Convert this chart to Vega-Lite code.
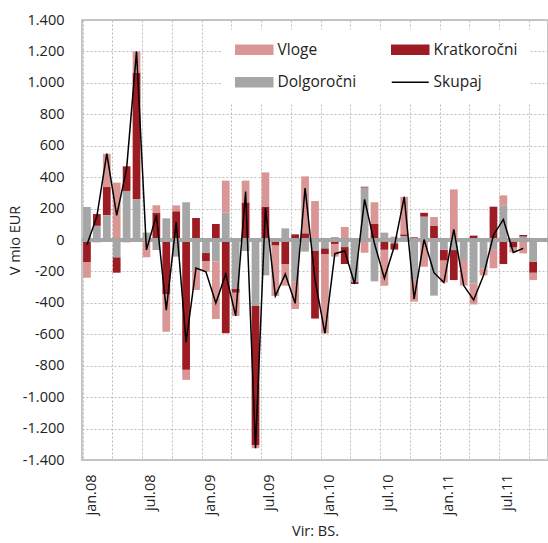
{
  "$schema": "https://vega.github.io/schema/vega-lite/v6.json",
  "width": 466,
  "height": 440,
  "autosize": "none",
  "padding": {"left": 82, "top": 20, "right": 0, "bottom": 83},
  "config": {
    "font": "Open Sans",
    "view": {"stroke": "#c6c6c6", "strokeWidth": 2},
    "axis": {"labelOverlap": false}
  },
  "data": {
    "values": [
      {"m": "2008-01", "Dolgoročni": 210, "Kratkoročni": -140, "Vloge": -100, "Skupaj": -30},
      {"m": "2008-02", "Dolgoročni": 90, "Kratkoročni": 75, "Vloge": -15, "Skupaj": 150},
      {"m": "2008-03", "Dolgoročni": 157, "Kratkoročni": 180, "Vloge": 212, "Skupaj": 549},
      {"m": "2008-04", "Dolgoročni": -110, "Kratkoročni": -98, "Vloge": 365, "Skupaj": 157},
      {"m": "2008-05", "Dolgoročni": 312, "Kratkoročni": 157, "Vloge": -15, "Skupaj": 454},
      {"m": "2008-06", "Dolgoročni": 260, "Kratkoročni": 805, "Vloge": 135, "Skupaj": 1200},
      {"m": "2008-07", "Dolgoročni": 47, "Kratkoročni": 0, "Vloge": -110, "Skupaj": -63},
      {"m": "2008-08", "Dolgoročni": -64, "Kratkoročni": 172, "Vloge": 49, "Skupaj": 157},
      {"m": "2008-09", "Dolgoročni": 138, "Kratkoročni": -344, "Vloge": -240, "Skupaj": -446},
      {"m": "2008-10", "Dolgoročni": -106, "Kratkoročni": 182, "Vloge": 38, "Skupaj": 114},
      {"m": "2008-11", "Dolgoročni": 240, "Kratkoročni": -825, "Vloge": -65, "Skupaj": -650},
      {"m": "2008-12", "Dolgoročni": -191, "Kratkoročni": 140, "Vloge": -127, "Skupaj": -178},
      {"m": "2009-01", "Dolgoročni": -83, "Kratkoročni": -51, "Vloge": -68, "Skupaj": -202},
      {"m": "2009-02", "Dolgoročni": -136, "Kratkoročni": 102, "Vloge": -367, "Skupaj": -401},
      {"m": "2009-03", "Dolgoročni": 174, "Kratkoročni": -594, "Vloge": 204, "Skupaj": -216},
      {"m": "2009-04", "Dolgoročni": -312, "Kratkoročni": -23, "Vloge": -148, "Skupaj": -483},
      {"m": "2009-05", "Dolgoročni": -70, "Kratkoročni": 238, "Vloge": 140, "Skupaj": 308},
      {"m": "2009-06", "Dolgoročni": -420, "Kratkoročni": -884, "Vloge": -21, "Skupaj": -1325},
      {"m": "2009-07", "Dolgoročni": -225, "Kratkoročni": 210, "Vloge": 220, "Skupaj": 205},
      {"m": "2009-08", "Dolgoročni": 0, "Kratkoročni": -34, "Vloge": -322, "Skupaj": -356},
      {"m": "2009-09", "Dolgoročni": 74, "Kratkoročni": -153, "Vloge": -138, "Skupaj": -217},
      {"m": "2009-10", "Dolgoročni": -265, "Kratkoročni": 36, "Vloge": -174, "Skupaj": -403},
      {"m": "2009-11", "Dolgoročni": -74, "Kratkoročni": 42, "Vloge": 363, "Skupaj": 331},
      {"m": "2009-12", "Dolgoročni": -70, "Kratkoročni": -430, "Vloge": 248, "Skupaj": -252},
      {"m": "2010-01", "Dolgoročni": -53, "Kratkoročni": -36, "Vloge": -505, "Skupaj": -594},
      {"m": "2010-02", "Dolgoročni": 19, "Kratkoročni": -25, "Vloge": -81, "Skupaj": -87},
      {"m": "2010-03", "Dolgoročni": -45, "Kratkoročni": -108, "Vloge": 83, "Skupaj": -70},
      {"m": "2010-04", "Dolgoročni": -268, "Kratkoročni": -12, "Vloge": 0, "Skupaj": -280},
      {"m": "2010-05", "Dolgoročni": 333, "Kratkoročni": 6, "Vloge": -81, "Skupaj": 258},
      {"m": "2010-06", "Dolgoročni": -263, "Kratkoročni": 102, "Vloge": 138, "Skupaj": -23},
      {"m": "2010-07", "Dolgoročni": 47, "Kratkoročni": -62, "Vloge": -229, "Skupaj": -244},
      {"m": "2010-08", "Dolgoročni": -21, "Kratkoročni": -40, "Vloge": 21, "Skupaj": -40},
      {"m": "2010-09", "Dolgoročni": 25, "Kratkoročni": 10, "Vloge": 240, "Skupaj": 275},
      {"m": "2010-10", "Dolgoročni": -254, "Kratkoročni": 17, "Vloge": -138, "Skupaj": -375},
      {"m": "2010-11", "Dolgoročni": 148, "Kratkoročni": 25, "Vloge": -170, "Skupaj": 3},
      {"m": "2010-12", "Dolgoročni": -354, "Kratkoročni": 89, "Vloge": 57, "Skupaj": -208},
      {"m": "2011-01", "Dolgoročni": -62, "Kratkoročni": -68, "Vloge": -140, "Skupaj": -270},
      {"m": "2011-02", "Dolgoročni": -64, "Kratkoročni": -191, "Vloge": 322, "Skupaj": 67},
      {"m": "2011-03", "Dolgoročni": -127, "Kratkoročni": 0, "Vloge": -163, "Skupaj": -290},
      {"m": "2011-04", "Dolgoročni": -276, "Kratkoročni": 28, "Vloge": -134, "Skupaj": -382},
      {"m": "2011-05", "Dolgoročni": -180, "Kratkoročni": 0, "Vloge": -45, "Skupaj": -225},
      {"m": "2011-06", "Dolgoročni": -62, "Kratkoročni": 212, "Vloge": -118, "Skupaj": 32},
      {"m": "2011-07", "Dolgoročni": 218, "Kratkoročni": -153, "Vloge": 66, "Skupaj": 131},
      {"m": "2011-08", "Dolgoročni": 0, "Kratkoročni": -47, "Vloge": -32, "Skupaj": -79},
      {"m": "2011-09", "Dolgoročni": 21, "Kratkoročni": 11, "Vloge": -85, "Skupaj": -53},
      {"m": "2011-10", "Dolgoročni": -138, "Kratkoročni": -70, "Vloge": -47}
    ]
  },
  "transform": [
    {"fold": ["Vloge", "Kratkoročni", "Dolgoročni", "Skupaj"], "as": ["s", "v"]},
    {"filter": "isValid(datum.v)"}
  ],
  "layer": [
    {
      "transform": [{"filter": "datum.s !== 'Skupaj'"}],
      "mark": {"type": "bar"},
      "encoding": {
        "x": {
          "field": "m",
          "type": "ordinal",
          "scale": {
            "domain": ["2008-01","2008-02","2008-03","2008-04","2008-05","2008-06","2008-07","2008-08","2008-09","2008-10","2008-11","2008-12",
                       "2009-01","2009-02","2009-03","2009-04","2009-05","2009-06","2009-07","2009-08","2009-09","2009-10","2009-11","2009-12",
                       "2010-01","2010-02","2010-03","2010-04","2010-05","2010-06","2010-07","2010-08","2010-09","2010-10","2010-11","2010-12",
                       "2011-01","2011-02","2011-03","2011-04","2011-05","2011-06","2011-07","2011-08","2011-09","2011-10","2011-11"],
            "paddingInner": 0.22,
            "paddingOuter": 0.11
          },
          "axis": {
            "values": ["2008-01","2008-04","2008-07","2008-10","2009-01","2009-04","2009-07","2009-10","2010-01","2010-04","2010-07","2010-10","2011-01","2011-04","2011-07","2011-10"],
            "bandPosition": 0,
            "labelExpr": "substring(datum.value, 5) === '01' ? 'jan.' + substring(datum.value, 2, 4) : (substring(datum.value, 5) === '07' ? 'jul.' + substring(datum.value, 2, 4) : '')",
            "labelAngle": 270,
            "labelOffset": 5,
            "labelPadding": 14,
            "labelFontSize": 14.5,
            "labelColor": "#222222",
            "labelOverlap": false,
            "labelBound": false,
            "ticks": false,
            "domain": false,
            "grid": true,
            "gridDash": [2, 2],
            "gridColor": "#bdbdbd",
            "gridWidth": 1,
            "title": "Vir: BS.",
            "titleFontSize": 14.5,
            "titleFontWeight": "normal",
            "titleColor": "#222222",
            "titleY": 71,
            "titleBaseline": "middle"
          }
        },
        "y": {
          "field": "v",
          "type": "quantitative",
          "stack": "zero",
          "scale": {"domain": [-1400, 1400], "nice": false},
          "axis": {
            "values": [-1400, -1200, -1000, -800, -600, -400, -200, 0, 200, 400, 600, 800, 1000, 1200, 1400],
            "tickCount": 30,
            "labelExpr": "(datum.value < 0 ? '-' : '') + replace(format(abs(datum.value), ','), ',', '.')",
            "labelOverlap": false,
            "labelBound": false,
            "ticks": false,
            "domain": false,
            "grid": true,
            "gridDash": [2, 2],
            "gridColor": "#bdbdbd",
            "gridWidth": 1,
            "labelPadding": 18,
            "labelFontSize": 14.5,
            "labelColor": "#222222",
            "title": "V mio EUR",
            "titleFontSize": 14.5,
            "titleFontWeight": "normal",
            "titleColor": "#222222",
            "titleAngle": 270,
            "titleX": -60,
            "titleY": 220,
            "titleAlign": "center",
            "titleBaseline": "bottom"
          }
        },
        "color": {
          "field": "s",
          "type": "nominal",
          "scale": {
            "domain": ["Vloge", "Dolgoročni", "Kratkoročni", "Skupaj"],
            "range": ["#d99694", "#a6a6a6", "#9d1c24", "#000000"]
          },
          "legend": {
            "orient": "none",
            "legendX": 139,
            "legendY": 9.5,
            "columns": 2,
            "title": null,
            "fillColor": "white",
            "padding": 12,
            "labelFontSize": 15.5,
            "labelColor": "#222222",
            "symbolSize": 100,
            "labelOffset": 29,
            "columnPadding": 31,
            "rowPadding": 16,
            "symbolType": "M-1,-0.9H6.4V0.9H-1Z",
            "encode": {
              "symbols": {
                "update": {
                  "shape": {"signal": "datum.value === 'Skupaj' ? 'M-1,0H6.4' : 'M-1,-0.9H6.4V0.9H-1Z'"},
                  "fill": {"signal": "datum.value === 'Skupaj' ? 'transparent' : scale('color', datum.value)"},
                  "stroke": {"signal": "datum.value === 'Skupaj' ? '#000000' : 'transparent'"},
                  "strokeWidth": {"value": 1.5},
                  "opacity": {"value": 1}
                }
              }
            }
          }
        },
        "order": {"field": "s", "sort": "ascending"}
      }
    },
    {
      "mark": {"type": "rule", "color": "#a5a5a5", "strokeWidth": 2.5},
      "encoding": {"y": {"datum": 0, "type": "quantitative"}}
    },
    {
      "transform": [{"filter": "datum.s === 'Skupaj'"}],
      "mark": {"type": "line", "strokeWidth": 1.5},
      "encoding": {
        "x": {"field": "m", "type": "ordinal"},
        "y": {"field": "v", "type": "quantitative", "stack": null},
        "color": {"field": "s", "type": "nominal"}
      }
    }
  ]
}
